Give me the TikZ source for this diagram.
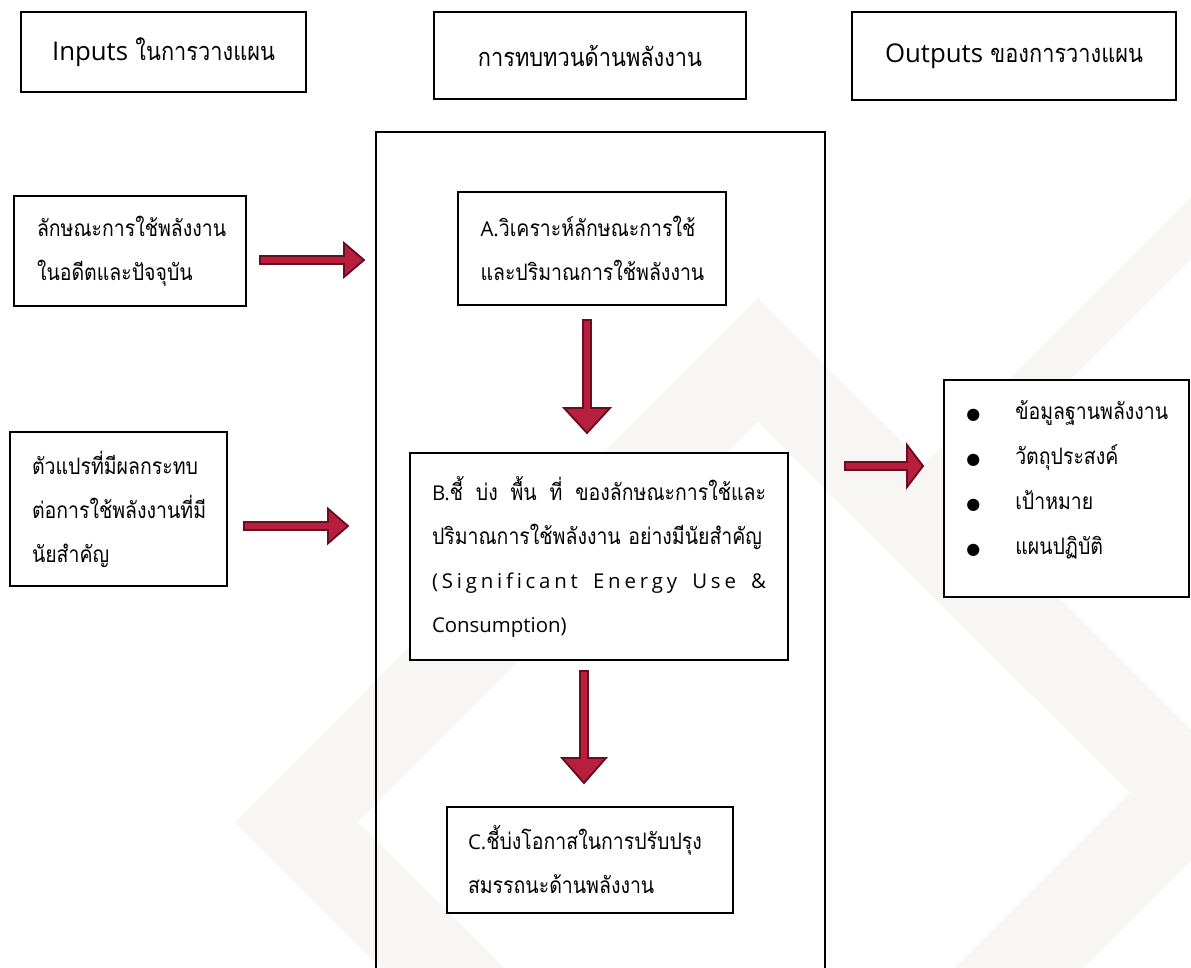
\documentclass[tikz,border=0pt]{standalone}
\usepackage{fontspec}
\setmainfont{Open Sans}[Scale=0.9]
\newfontfamily\thai[Script=Thai, FakeStretch=0.86]{Loma}
\newfontfamily\symfont{DejaVu Sans}
\usetikzlibrary{calc}
\newdimen\px \px=0.75pt
\definecolor{crim}{RGB}{184,30,62}
\definecolor{dkred}{RGB}{104,14,32}
\definecolor{wmark}{RGB}{247,246,244}
\newcommand\bodyfont{\fontsize{17}{33}\selectfont}
\newcommand\hdrfont{\fontsize{19}{22}\selectfont}
\newcommand\lat[1]{{\rmfamily #1}}
\newcommand\hlat[1]{{\rmfamily\fontsize{21.5}{22}\selectfont #1}}
\newcommand\bul{\makebox[49\px][l]{\symfont\fontsize{12}{12}\selectfont ●}}
% horizontal block arrow: start, tip, head length, head half-width
\newcommand\harrow[4]{\filldraw[fatarrow] let \p1=(#1), \p2=(#2) in
  (\x1,\y1+3pt) -- (\x2-#3,\y1+3pt) -- (\x2-#3,\y1+#4) -- (\x2,\y1)
  -- (\x2-#3,\y1-#4) -- (\x2-#3,\y1-3pt) -- (\x1,\y1-3pt) -- cycle;}
% downward block arrow: start, tip, head length, head half-width
\newcommand\varrow[4]{\filldraw[fatarrow] let \p1=(#1), \p2=(#2) in
  (\x1-3pt,\y1) -- (\x1-3pt,\y2+#3) -- (\x1-#4,\y2+#3) -- (\x1,\y2)
  -- (\x1+#4,\y2+#3) -- (\x1+3pt,\y2+#3) -- (\x1+3pt,\y1) -- cycle;}
\begin{document}
\begin{tikzpicture}[x=0.75pt,y=-0.75pt,
  box/.style={draw=black, line width=2pt, fill=white, inner sep=0pt},
  hdr/.style={box, font=\hdrfont\thai},
  txt/.style={box, align=left, font=\bodyfont\thai},
  fatarrow/.style={fill=crim, draw=dkred, line width=1.4pt, line join=miter}]
\useasboundingbox (0,0) rectangle (1191,967);
\clip (0,0) rectangle (1191,967);
\fill[white] (0,0) rectangle (1191,967);

% faint background diamond
\fill[wmark, even odd rule]
  (758,298) -- (1256,795) -- (732,1319) -- (235,822) -- cycle
  (758,422) -- (1130,793) -- (730,1193) -- (358,822) -- cycle;
\fill[wmark] (1300,88) -- (1300,150) -- (955,495) -- (924,464) -- cycle;

% column headers
\node[hdr, minimum width=285\px, minimum height=80\px] (hin) at (163.5,52)
  {\hlat{Inputs} ในการวางแผน};
\node[hdr, minimum width=312\px, minimum height=87\px] (hrev) at (590,55.5)
  {การทบทวนด้านพลังงาน};
\node[hdr, minimum width=324\px, minimum height=88\px] (hout) at (1014,56)
  {\hlat{Outputs} ของการวางแผน};

% energy review frame
\node[draw=black, line width=2pt, inner sep=0pt, minimum width=449\px,
  minimum height=880\px] (rev) at (600.5,572) {};

% inputs
\node[txt, minimum width=232\px, minimum height=110\px, text width=186\px]
  (in1) at (130,251) {ลักษณะการใช้พลังงาน\\ในอดีตและปัจจุบัน};
\node[txt, minimum width=217\px, minimum height=154\px, text width=173\px]
  (in2) at (118.5,509) {ตัวแปรที่มีผลกระทบ\\ต่อการใช้พลังงานที่มี\\นัยสำคัญ};

% review steps
\node[txt, minimum width=268\px, minimum height=113\px, text width=223\px]
  (sa) at (592,248.5) {\lat{A.}วิเคราะห์ลักษณะการใช้\\และปริมาณการใช้พลังงาน};
\node[txt, minimum width=378\px, minimum height=207\px, text width=334\px]
  (sb) at (599,556.5)
  {\leavevmode\hbox to 334\px{\lat{B.}ชี้\hfil บ่ง\hfil พื้น\hfil ที่\hfil ของลักษณะการใช้และ}\\
   ปริมาณการใช้พลังงาน อย่างมีนัยสำคัญ\\
   \leavevmode\hbox to 334\px{\rmfamily (\hfil S\hfil i\hfil g\hfil n\hfil i\hfil f\hfil i\hfil c\hfil a\hfil n\hfil t\hfil\ \hfil
     E\hfil n\hfil e\hfil r\hfil g\hfil y\hfil\ \hfil U\hfil s\hfil e\hfil\ \hfil \&}\\
   \lat{Consumption)}};
\node[txt, minimum width=286\px, minimum height=106\px, text width=244\px]
  (sc) at (590,860) {\lat{C.}ชี้บ่งโอกาสในการปรับปรุง\\สมรรถนะด้านพลังงาน};

% outputs
\node[box, minimum width=245\px, minimum height=217\px] (out) at (1066.5,488.5) {};
\node[anchor=west, inner sep=0pt, align=left, font=\fontsize{17}{33.75}\selectfont\thai]
  (outlist) at (966,479.5)
  {\bul ข้อมูลฐานพลังงาน\\
   \bul วัตถุประสงค์\\
   \bul เป้าหมาย\\
   \bul แผนปฏิบัติ};

% block arrows
\coordinate (a1s) at (260,260);  \coordinate (a1t) at (364,260);
\coordinate (a2s) at (244,526);  \coordinate (a2t) at (348,526);
\coordinate (a3s) at (587,320);  \coordinate (a3t) at (587,433);
\coordinate (a4s) at (584,671);  \coordinate (a4t) at (584,783);
\coordinate (a5s) at (845,466);  \coordinate (a5t) at (923,466);
\harrow{a1s}{a1t}{15pt}{12.75pt}
\harrow{a2s}{a2t}{15pt}{13pt}
\varrow{a3s}{a3t}{18.75pt}{17.25pt}
\varrow{a4s}{a4t}{18.75pt}{16.5pt}
\harrow{a5s}{a5t}{12pt}{15.75pt}
\end{tikzpicture}
\end{document}
